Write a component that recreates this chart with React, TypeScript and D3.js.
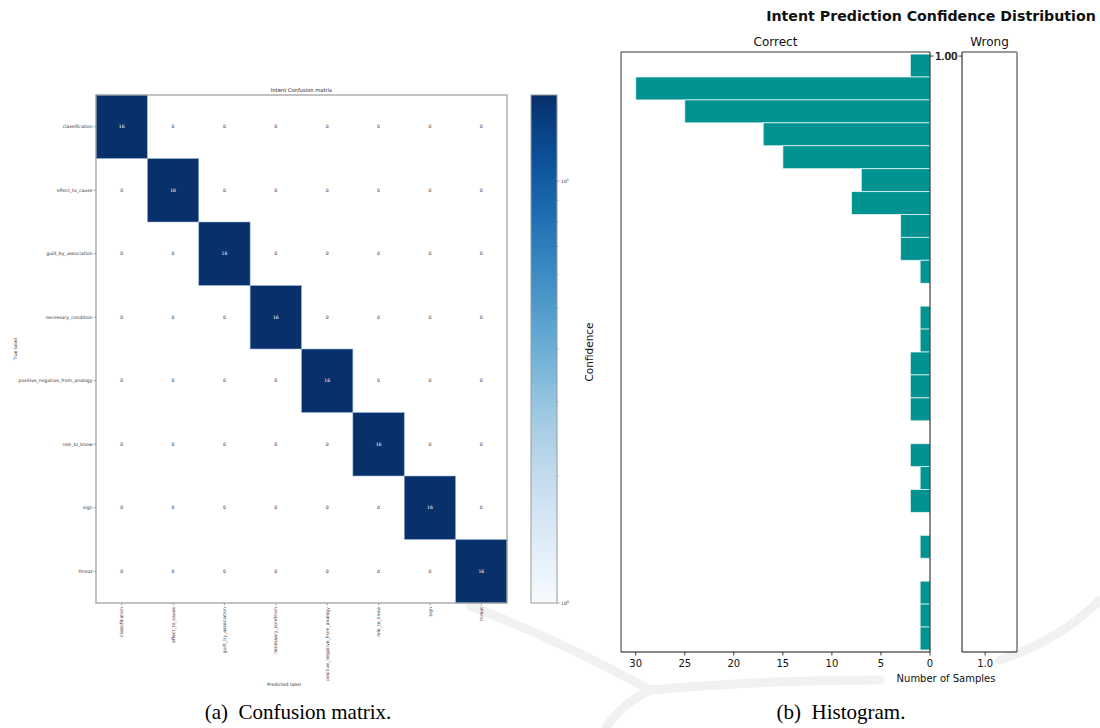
import * as d3 from "d3";
import { useEffect, useRef } from "react";

// class names, same order on both axes
const intents = [
  "classification",
  "effect_to_cause",
  "guilt_by_association",
  "necessary_condition",
  "positive_negative_from_analogy",
  "role_to_know",
  "sign",
  "threat",
];

// confusion matrix, rows = true label, cols = predicted label
const confusion = [
  [16, 0, 0, 0, 0, 0, 0, 0],
  [0, 16, 0, 0, 0, 0, 0, 0],
  [0, 0, 16, 0, 0, 0, 0, 0],
  [0, 0, 0, 16, 0, 0, 0, 0],
  [0, 0, 0, 0, 16, 0, 0, 0],
  [0, 0, 0, 0, 0, 16, 0, 0],
  [0, 0, 0, 0, 0, 0, 16, 0],
  [0, 0, 0, 0, 0, 0, 0, 16],
];

// histogram of confidence for correct predictions (upper bin edge -> count)
const binTops = [1.0, 0.99, 0.98, 0.97, 0.96, 0.95, 0.94, 0.93, 0.92, 0.91, 0.9, 0.89, 0.88,
  0.87, 0.86, 0.85, 0.84, 0.83, 0.82, 0.81, 0.8, 0.79, 0.78, 0.77, 0.76, 0.75];
const correctCounts = [2, 30, 25, 17, 15, 7, 8, 3, 3, 1, 0, 1, 1,
  2, 2, 2, 0, 2, 1, 2, 0, 1, 0, 1, 1, 1];
const binWidth = 0.01;

const countTicks = [30, 25, 20, 15, 10, 5, 0];
const confTicks = [1.0];
const wrongTicks = [1.0];

const FONT = "DejaVu Sans, sans-serif";
const TEAL = "#009391";

const App = () => {
  const ref = useRef<SVGSVGElement | null>(null);

  useEffect(() => {
    const svg = d3.select(ref.current);
    svg.selectAll("*").remove();

    // faint background watermark arcs
    const wm = svg.append("g").attr("fill", "none").attr("stroke", "#f1f1f1")
      .attr("stroke-width", 9).attr("stroke-linecap", "round");
    wm.append("path").attr("d", "M470,606 Q560,640 650,690");
    wm.append("path").attr("d", "M650,690 Q620,705 606,728");
    wm.append("path").attr("d", "M650,690 Q760,680 880,680");
    wm.append("path").attr("d", "M1000,660 Q1060,640 1100,600");

    // ---------- confusion matrix ----------
    const cm = { left: 96, top: 95, right: 507, bottom: 603 };
    const x = d3.scaleBand().domain(intents).range([cm.left, cm.right]);
    const y = d3.scaleBand().domain(intents).range([cm.top, cm.bottom]);
    const maxVal = d3.max(confusion.flat()) as number;
    const color = d3.scaleSequentialLog(d3.interpolateBlues).domain([1, maxVal]);

    const cells = confusion.flatMap((row, r) =>
      row.map((v, c) => ({ r: intents[r], c: intents[c], v }))
    );

    const g = svg.append("g");
    g.selectAll("rect.cell")
      .data(cells.filter(d => d.v > 0))
      .enter()
      .append("rect")
      .attr("class", "cell")
      .attr("x", d => x(d.c) as number)
      .attr("y", d => y(d.r) as number)
      .attr("width", x.bandwidth())
      .attr("height", y.bandwidth())
      .attr("fill", d => color(d.v))
      .attr("stroke", "#9db7d8")
      .attr("stroke-width", 0.6);

    g.selectAll("text.val")
      .data(cells)
      .enter()
      .append("text")
      .attr("x", d => (x(d.c) as number) + x.bandwidth() / 2)
      .attr("y", d => (y(d.r) as number) + y.bandwidth() / 2 + 1.5)
      .attr("text-anchor", "middle")
      .attr("font-family", FONT)
      .attr("font-size", 4.6)
      .attr("fill", d => (d.v > maxVal / 2 ? "#ffffff" : "#333333"))
      .text(d => d.v);

    g.append("rect")
      .attr("x", cm.left).attr("y", cm.top)
      .attr("width", cm.right - cm.left).attr("height", cm.bottom - cm.top)
      .attr("fill", "none").attr("stroke", "#999999").attr("stroke-width", 1.2);

    // y ticks
    intents.forEach(name => {
      const yy = (y(name) as number) + y.bandwidth() / 2;
      g.append("line").attr("x1", cm.left - 2.5).attr("x2", cm.left)
        .attr("y1", yy).attr("y2", yy).attr("stroke", "#777").attr("stroke-width", 0.6);
      g.append("text").attr("x", cm.left - 3.5).attr("y", yy + 1.6)
        .attr("text-anchor", "end").attr("font-family", FONT).attr("font-size", 4.6)
        .attr("fill", "#333").text(name);
    });
    // x ticks (rotated)
    intents.forEach(name => {
      const xx = (x(name) as number) + x.bandwidth() / 2;
      g.append("line").attr("x1", xx).attr("x2", xx)
        .attr("y1", cm.bottom).attr("y2", cm.bottom + 2.5).attr("stroke", "#777").attr("stroke-width", 0.6);
      g.append("text")
        .attr("transform", `translate(${xx + 1.6},${cm.bottom + 4}) rotate(-90)`)
        .attr("text-anchor", "end").attr("font-family", FONT).attr("font-size", 4.6)
        .attr("fill", "#333").text(name);
    });

    g.append("text").attr("x", (cm.left + cm.right) / 2).attr("y", cm.top - 3)
      .attr("text-anchor", "middle").attr("font-family", FONT).attr("font-size", 5.2)
      .attr("fill", "#222").text("Intent Confusion matrix");
    g.append("text").attr("x", 284).attr("y", 686)
      .attr("text-anchor", "middle").attr("font-family", FONT).attr("font-size", 4.6)
      .attr("fill", "#333").text("Predicted label");
    g.append("text").attr("transform", `translate(17,${(cm.top + cm.bottom) / 2}) rotate(-90)`)
      .attr("text-anchor", "middle").attr("font-family", FONT).attr("font-size", 4.6)
      .attr("fill", "#333").text("True label");

    // colorbar
    const cb = { left: 531, right: 557, top: 95, bottom: 603 };
    const cbScale = d3.scaleLog().domain([1, maxVal]).range([cb.bottom, cb.top]);
    const defs = svg.append("defs");
    const grad = defs.append("linearGradient").attr("id", "blues")
      .attr("x1", 0).attr("y1", 1).attr("x2", 0).attr("y2", 0);
    d3.range(0, 1.0001, 0.05).forEach(t => {
      grad.append("stop").attr("offset", t).attr("stop-color", d3.interpolateBlues(t));
    });
    g.append("rect").attr("x", cb.left).attr("y", cb.top)
      .attr("width", cb.right - cb.left).attr("height", cb.bottom - cb.top)
      .attr("fill", "url(#blues)").attr("stroke", "#999").attr("stroke-width", 1);
    const minor = [2, 3, 4, 5, 6, 7, 8, 9];
    minor.forEach(v => {
      g.append("line").attr("x1", cb.right).attr("x2", cb.right + 1.5)
        .attr("y1", cbScale(v)).attr("y2", cbScale(v)).attr("stroke", "#777").attr("stroke-width", 0.5);
    });
    [1, 10].forEach((v, i) => {
      const yy = cbScale(v);
      g.append("line").attr("x1", cb.right).attr("x2", cb.right + 2.5)
        .attr("y1", yy).attr("y2", yy).attr("stroke", "#777").attr("stroke-width", 0.6);
      const t = g.append("text").attr("x", cb.right + 4).attr("y", yy + 1.6)
        .attr("font-family", FONT).attr("font-size", 4.6).attr("fill", "#333");
      t.append("tspan").text("10");
      t.append("tspan").attr("dy", -1.8).attr("font-size", 3.4).text(String(i));
    });

    // ---------- histogram ----------
    const hc = { left: 621, right: 930, top: 52, bottom: 652 };
    const hw = { left: 962, right: 1017 };
    const xCount = d3.scaleLinear().domain([31.5, 0]).range([hc.left, hc.right]);
    const yConf = d3.scaleLinear()
      .domain([binTops[binTops.length - 1] - binWidth - 0.0009, binTops[0] + 0.0009])
      .range([hc.bottom, hc.top]);
    const xWrong = d3.scaleLinear().domain([0.58, 1.58]).range([hw.left, hw.right]);

    const h = svg.append("g");
    const bins = binTops.map((top, i) => ({ top, n: correctCounts[i] }));
    h.selectAll("rect.bar")
      .data(bins.filter(d => d.n > 0))
      .enter()
      .append("rect")
      .attr("x", d => xCount(d.n))
      .attr("y", d => yConf(d.top))
      .attr("width", d => xCount(0) - xCount(d.n))
      .attr("height", d => yConf(d.top - binWidth) - yConf(d.top))
      .attr("fill", TEAL)
      .attr("stroke", "#ffffff")
      .attr("stroke-opacity", 0.65)
      .attr("stroke-width", 1);

    // spines for both panels
    const spine = (x1: number, y1: number, x2: number, y2: number, c: string, w: number) =>
      h.append("line").attr("x1", x1).attr("y1", y1).attr("x2", x2).attr("y2", y2)
        .attr("stroke", c).attr("stroke-width", w);
    spine(hc.left, hc.top, hc.left, hc.bottom, "#9a9a9a", 2);
    spine(hc.left, hc.top, hc.right, hc.top, "#333", 1);
    spine(hc.right, hc.top, hc.right, hc.bottom, "#111", 1);
    spine(hc.left, hc.bottom, hc.right, hc.bottom, "#111", 1);
    spine(hw.left, hc.top, hw.right, hc.top, "#333", 1);
    spine(hw.left, hc.top, hw.left, hc.bottom, "#111", 1);
    spine(hw.right, hc.top, hw.right, hc.bottom, "#9a9a9a", 2);
    spine(hw.left, hc.bottom, hw.right, hc.bottom, "#111", 1);

    countTicks.forEach(v => {
      const xx = xCount(v);
      spine(xx, hc.bottom, xx, hc.bottom + 3.5, "#111", 0.8);
      h.append("text").attr("x", xx).attr("y", hc.bottom + 15)
        .attr("text-anchor", "middle").attr("font-family", FONT).attr("font-size", 10)
        .attr("fill", "#111").text(v);
    });
    wrongTicks.forEach(v => {
      const xx = xWrong(v);
      spine(xx, hc.bottom, xx, hc.bottom + 3.5, "#111", 0.8);
      h.append("text").attr("x", xx).attr("y", hc.bottom + 15)
        .attr("text-anchor", "middle").attr("font-family", FONT).attr("font-size", 10)
        .attr("fill", "#111").text(v.toFixed(1));
    });
    confTicks.forEach(v => {
      const yy = yConf(v) + 2;
      spine(hc.right, yy, hc.right + 3.5, yy, "#111", 0.8);
      spine(hw.left - 3.5, yy, hw.left, yy, "#111", 0.8);
      h.append("text").attr("x", hc.right + 5.5).attr("y", yy + 3.6)
        .attr("font-family", FONT).attr("font-size", 10).attr("fill", "#111").text(v.toFixed(2));
      h.append("text").attr("x", hw.left - 5).attr("y", yy + 3.6).attr("text-anchor", "end")
        .attr("font-family", FONT).attr("font-size", 10).attr("fill", "#111").text(v.toFixed(2));
    });

    h.append("text").attr("x", (hc.left + hc.right) / 2).attr("y", 46)
      .attr("text-anchor", "middle").attr("font-family", FONT).attr("font-size", 12)
      .attr("fill", "#111").text("Correct");
    h.append("text").attr("x", (hw.left + hw.right) / 2).attr("y", 46)
      .attr("text-anchor", "middle").attr("font-family", FONT).attr("font-size", 12)
      .attr("fill", "#111").text("Wrong");
    h.append("text").attr("x", 931).attr("y", 21)
      .attr("text-anchor", "middle").attr("font-family", FONT).attr("font-size", 14.2)
      .attr("font-weight", "bold").attr("fill", "#111").text("Intent Prediction Confidence Distribution");
    h.append("text").attr("x", 946).attr("y", 682)
      .attr("text-anchor", "middle").attr("font-family", FONT).attr("font-size", 10)
      .attr("fill", "#111").text("Number of Samples");
    h.append("text").attr("transform", "translate(593,352) rotate(-90)")
      .attr("text-anchor", "middle").attr("font-family", FONT).attr("font-size", 10.5)
      .attr("fill", "#111").text("Confidence");

    // ---------- captions ----------
    const cap = svg.append("g").attr("font-family", "Liberation Serif, Times New Roman, serif")
      .attr("font-size", 21).attr("fill", "#000").attr("text-anchor", "middle");
    cap.append("text").attr("x", 298).attr("y", 719).attr("xml:space", "preserve").text("(a)  Confusion matrix.");
    cap.append("text").attr("x", 841).attr("y", 719).attr("xml:space", "preserve").text("(b)  Histogram.");
  }, []);

  return (
    <div style={{ position: "absolute", left: 0, top: 0 }}>
      <svg ref={ref} width={1100} height={728} style={{ display: "block", background: "#fff" }}></svg>
    </div>
  );
};

export default App;
